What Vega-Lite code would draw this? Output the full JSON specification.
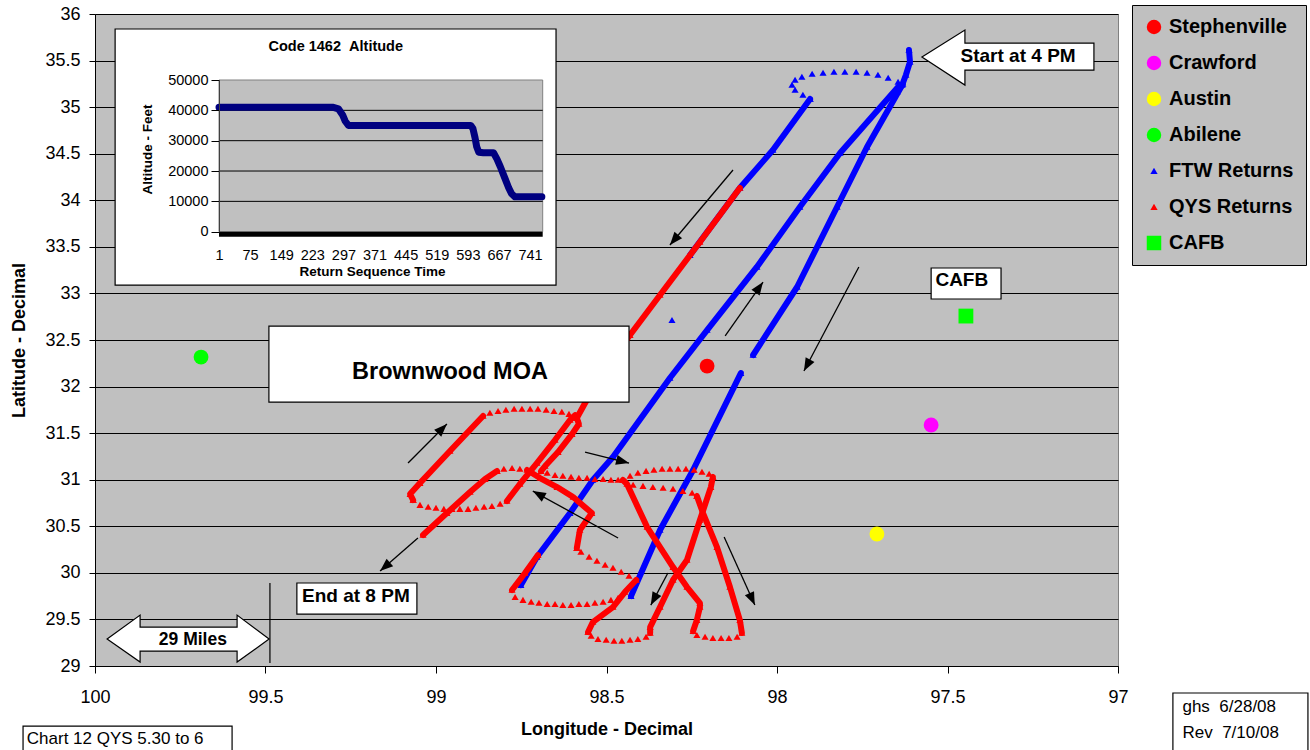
{
  "$schema": "https://vega.github.io/schema/vega-lite/v6.json",
  "width": 1023,
  "height": 652,
  "autosize": {"type": "none"},
  "padding": {"left": 95, "top": 14, "right": 192, "bottom": 84},
  "background": "#ffffff",
  "config": {
    "font": "Liberation Sans",
    "view": {"fill": "#c0c0c0", "stroke": "#808080", "strokeWidth": 1},
    "axis": {"labelFont": "Liberation Sans", "titleFont": "Liberation Sans", "labelColor": "#000000", "titleColor": "#000000", "domainColor": "#000000", "tickColor": "#000000"},
    "text": {"font": "Liberation Sans"}
  },
  "datasets": {
    "tracks": [
      {"series":"FTW Returns","seg":"b0","ord":0,"lon":97.613,"lat":35.613},
      {"series":"FTW Returns","seg":"b0","ord":1,"lon":97.610,"lat":35.485},
      {"series":"FTW Returns","seg":"b0","ord":2,"lon":97.622,"lat":35.345},
      {"series":"FTW Returns","seg":"b0","ord":3,"lon":97.633,"lat":35.238},
      {"series":"FTW Returns","seg":"b0","ord":4,"lon":97.648,"lat":35.163},
      {"series":"FTW Returns","seg":"b1","ord":0,"lon":97.645,"lat":35.270},
      {"series":"FTW Returns","seg":"b1","ord":1,"lon":97.674,"lat":35.313},
      {"series":"FTW Returns","seg":"b1","ord":2,"lon":97.704,"lat":35.345},
      {"series":"FTW Returns","seg":"b1","ord":3,"lon":97.736,"lat":35.367},
      {"series":"FTW Returns","seg":"b1","ord":4,"lon":97.768,"lat":35.377},
      {"series":"FTW Returns","seg":"b1","ord":5,"lon":97.801,"lat":35.377},
      {"series":"FTW Returns","seg":"b1","ord":6,"lon":97.833,"lat":35.377},
      {"series":"FTW Returns","seg":"b1","ord":7,"lon":97.865,"lat":35.367},
      {"series":"FTW Returns","seg":"b1","ord":8,"lon":97.897,"lat":35.356},
      {"series":"FTW Returns","seg":"b1","ord":9,"lon":97.927,"lat":35.324},
      {"series":"FTW Returns","seg":"b1","ord":10,"lon":97.947,"lat":35.292},
      {"series":"FTW Returns","seg":"b1","ord":11,"lon":97.956,"lat":35.238},
      {"series":"FTW Returns","seg":"b1","ord":12,"lon":97.947,"lat":35.184},
      {"series":"FTW Returns","seg":"b1","ord":13,"lon":97.924,"lat":35.130},
      {"series":"FTW Returns","seg":"b1","ord":14,"lon":97.903,"lat":35.087},
      {"series":"FTW Returns","seg":"b2","ord":0,"lon":97.903,"lat":35.087},
      {"series":"FTW Returns","seg":"b2","ord":1,"lon":98.012,"lat":34.540},
      {"series":"FTW Returns","seg":"b2","ord":2,"lon":98.109,"lat":34.132},
      {"series":"FTW Returns","seg":"b2","ord":3,"lon":98.255,"lat":33.412},
      {"series":"FTW Returns","seg":"b3","ord":0,"lon":97.645,"lat":35.216},
      {"series":"FTW Returns","seg":"b3","ord":1,"lon":97.815,"lat":34.508},
      {"series":"FTW Returns","seg":"b3","ord":2,"lon":97.933,"lat":33.928},
      {"series":"FTW Returns","seg":"b3","ord":3,"lon":98.059,"lat":33.284},
      {"series":"FTW Returns","seg":"b3","ord":4,"lon":98.205,"lat":32.607},
      {"series":"FTW Returns","seg":"b3","ord":5,"lon":98.314,"lat":32.092},
      {"series":"FTW Returns","seg":"b3","ord":6,"lon":98.481,"lat":31.244},
      {"series":"FTW Returns","seg":"b3","ord":7,"lon":98.540,"lat":30.997},
      {"series":"FTW Returns","seg":"b3","ord":8,"lon":98.607,"lat":30.642},
      {"series":"FTW Returns","seg":"b3","ord":9,"lon":98.704,"lat":30.170},
      {"series":"FTW Returns","seg":"b3","ord":10,"lon":98.751,"lat":29.869},
      {"series":"FTW Returns","seg":"b4","ord":0,"lon":97.631,"lat":35.248},
      {"series":"FTW Returns","seg":"b4","ord":1,"lon":97.736,"lat":34.572},
      {"series":"FTW Returns","seg":"b4","ord":2,"lon":97.824,"lat":33.928},
      {"series":"FTW Returns","seg":"b4","ord":3,"lon":97.941,"lat":33.069},
      {"series":"FTW Returns","seg":"b4","ord":4,"lon":98.070,"lat":32.339},
      {"series":"FTW Returns","seg":"b5","ord":0,"lon":98.106,"lat":32.145},
      {"series":"FTW Returns","seg":"b5","ord":1,"lon":98.246,"lat":31.104},
      {"series":"FTW Returns","seg":"b5","ord":2,"lon":98.343,"lat":30.460},
      {"series":"FTW Returns","seg":"b5","ord":3,"lon":98.428,"lat":29.751},
      {"series":"FTW Returns","seg":"b6","ord":0,"lon":98.308,"lat":32.714},
      {"series":"QYS Returns","seg":"r0","ord":0,"lon":98.109,"lat":34.132},
      {"series":"QYS Returns","seg":"r0","ord":1,"lon":98.226,"lat":33.552},
      {"series":"QYS Returns","seg":"r0","ord":2,"lon":98.343,"lat":32.983},
      {"series":"QYS Returns","seg":"r0","ord":3,"lon":98.431,"lat":32.553},
      {"series":"QYS Returns","seg":"r0","ord":4,"lon":98.519,"lat":32.113},
      {"series":"QYS Returns","seg":"r0","ord":5,"lon":98.587,"lat":31.662},
      {"series":"QYS Returns","seg":"r1","ord":0,"lon":98.587,"lat":31.662},
      {"series":"QYS Returns","seg":"r1","ord":1,"lon":98.581,"lat":31.598},
      {"series":"QYS Returns","seg":"r1","ord":2,"lon":98.601,"lat":31.490},
      {"series":"QYS Returns","seg":"r1","ord":3,"lon":98.642,"lat":31.297},
      {"series":"QYS Returns","seg":"r1","ord":4,"lon":98.680,"lat":31.147},
      {"series":"QYS Returns","seg":"r1","ord":5,"lon":98.692,"lat":31.093},
      {"series":"QYS Returns","seg":"r2","ord":0,"lon":98.792,"lat":30.771},
      {"series":"QYS Returns","seg":"r2","ord":1,"lon":98.754,"lat":30.954},
      {"series":"QYS Returns","seg":"r2","ord":2,"lon":98.704,"lat":31.179},
      {"series":"QYS Returns","seg":"r2","ord":3,"lon":98.651,"lat":31.426},
      {"series":"QYS Returns","seg":"r2","ord":4,"lon":98.607,"lat":31.641},
      {"series":"QYS Returns","seg":"r2","ord":5,"lon":98.592,"lat":31.694},
      {"series":"QYS Returns","seg":"r2","ord":6,"lon":98.587,"lat":31.662},
      {"series":"QYS Returns","seg":"r3","ord":0,"lon":98.674,"lat":31.072},
      {"series":"QYS Returns","seg":"r3","ord":1,"lon":98.651,"lat":31.050},
      {"series":"QYS Returns","seg":"r3","ord":2,"lon":98.628,"lat":31.040},
      {"series":"QYS Returns","seg":"r3","ord":3,"lon":98.604,"lat":31.029},
      {"series":"QYS Returns","seg":"r3","ord":4,"lon":98.581,"lat":31.018},
      {"series":"QYS Returns","seg":"r3","ord":5,"lon":98.557,"lat":31.018},
      {"series":"QYS Returns","seg":"r3","ord":6,"lon":98.534,"lat":31.007},
      {"series":"QYS Returns","seg":"r3","ord":7,"lon":98.510,"lat":31.007},
      {"series":"QYS Returns","seg":"r3","ord":8,"lon":98.487,"lat":30.997},
      {"series":"QYS Returns","seg":"r3","ord":9,"lon":98.466,"lat":30.997},
      {"series":"QYS Returns","seg":"r4","ord":0,"lon":98.452,"lat":30.997},
      {"series":"QYS Returns","seg":"r4","ord":1,"lon":98.431,"lat":31.040},
      {"series":"QYS Returns","seg":"r4","ord":2,"lon":98.408,"lat":31.072},
      {"series":"QYS Returns","seg":"r4","ord":3,"lon":98.384,"lat":31.093},
      {"series":"QYS Returns","seg":"r4","ord":4,"lon":98.361,"lat":31.104},
      {"series":"QYS Returns","seg":"r4","ord":5,"lon":98.337,"lat":31.115},
      {"series":"QYS Returns","seg":"r4","ord":6,"lon":98.314,"lat":31.115},
      {"series":"QYS Returns","seg":"r4","ord":7,"lon":98.290,"lat":31.115},
      {"series":"QYS Returns","seg":"r4","ord":8,"lon":98.267,"lat":31.115},
      {"series":"QYS Returns","seg":"r4","ord":9,"lon":98.243,"lat":31.104},
      {"series":"QYS Returns","seg":"r4","ord":10,"lon":98.220,"lat":31.083},
      {"series":"QYS Returns","seg":"r4","ord":11,"lon":98.199,"lat":31.061},
      {"series":"QYS Returns","seg":"r4","ord":12,"lon":98.188,"lat":31.029},
      {"series":"QYS Returns","seg":"r5","ord":0,"lon":98.188,"lat":31.029},
      {"series":"QYS Returns","seg":"r5","ord":1,"lon":98.194,"lat":30.921},
      {"series":"QYS Returns","seg":"r5","ord":2,"lon":98.226,"lat":30.567},
      {"series":"QYS Returns","seg":"r5","ord":3,"lon":98.264,"lat":30.138},
      {"series":"QYS Returns","seg":"r5","ord":4,"lon":98.305,"lat":29.923},
      {"series":"QYS Returns","seg":"r5","ord":5,"lon":98.343,"lat":29.633},
      {"series":"QYS Returns","seg":"r5","ord":6,"lon":98.372,"lat":29.418},
      {"series":"QYS Returns","seg":"r5","ord":7,"lon":98.372,"lat":29.354},
      {"series":"QYS Returns","seg":"r6","ord":0,"lon":98.384,"lat":29.311},
      {"series":"QYS Returns","seg":"r6","ord":1,"lon":98.408,"lat":29.289},
      {"series":"QYS Returns","seg":"r6","ord":2,"lon":98.431,"lat":29.279},
      {"series":"QYS Returns","seg":"r6","ord":3,"lon":98.455,"lat":29.268},
      {"series":"QYS Returns","seg":"r6","ord":4,"lon":98.478,"lat":29.268},
      {"series":"QYS Returns","seg":"r6","ord":5,"lon":98.501,"lat":29.279},
      {"series":"QYS Returns","seg":"r6","ord":6,"lon":98.525,"lat":29.289},
      {"series":"QYS Returns","seg":"r6","ord":7,"lon":98.545,"lat":29.322},
      {"series":"QYS Returns","seg":"r6","ord":8,"lon":98.554,"lat":29.365},
      {"series":"QYS Returns","seg":"r7","ord":0,"lon":98.554,"lat":29.365},
      {"series":"QYS Returns","seg":"r7","ord":1,"lon":98.540,"lat":29.472},
      {"series":"QYS Returns","seg":"r7","ord":2,"lon":98.481,"lat":29.633},
      {"series":"QYS Returns","seg":"r7","ord":3,"lon":98.446,"lat":29.794},
      {"series":"QYS Returns","seg":"r7","ord":4,"lon":98.413,"lat":29.923},
      {"series":"QYS Returns","seg":"r8","ord":0,"lon":98.434,"lat":29.966},
      {"series":"QYS Returns","seg":"r8","ord":1,"lon":98.457,"lat":30.009},
      {"series":"QYS Returns","seg":"r8","ord":2,"lon":98.481,"lat":30.052},
      {"series":"QYS Returns","seg":"r8","ord":3,"lon":98.504,"lat":30.084},
      {"series":"QYS Returns","seg":"r8","ord":4,"lon":98.528,"lat":30.127},
      {"series":"QYS Returns","seg":"r8","ord":5,"lon":98.551,"lat":30.170},
      {"series":"QYS Returns","seg":"r8","ord":6,"lon":98.575,"lat":30.224},
      {"series":"QYS Returns","seg":"r8","ord":7,"lon":98.587,"lat":30.266},
      {"series":"QYS Returns","seg":"r9","ord":0,"lon":98.587,"lat":30.266},
      {"series":"QYS Returns","seg":"r9","ord":1,"lon":98.578,"lat":30.460},
      {"series":"QYS Returns","seg":"r9","ord":2,"lon":98.543,"lat":30.642},
      {"series":"QYS Returns","seg":"r9","ord":3,"lon":98.598,"lat":30.814},
      {"series":"QYS Returns","seg":"r9","ord":4,"lon":98.645,"lat":30.921},
      {"series":"QYS Returns","seg":"r9","ord":5,"lon":98.695,"lat":31.018},
      {"series":"QYS Returns","seg":"r9","ord":6,"lon":98.733,"lat":31.104},
      {"series":"QYS Returns","seg":"r10","ord":0,"lon":98.754,"lat":31.115},
      {"series":"QYS Returns","seg":"r10","ord":1,"lon":98.777,"lat":31.125},
      {"series":"QYS Returns","seg":"r10","ord":2,"lon":98.801,"lat":31.115},
      {"series":"QYS Returns","seg":"r10","ord":3,"lon":98.821,"lat":31.093},
      {"series":"QYS Returns","seg":"r11","ord":0,"lon":98.821,"lat":31.093},
      {"series":"QYS Returns","seg":"r11","ord":1,"lon":98.856,"lat":31.007},
      {"series":"QYS Returns","seg":"r11","ord":2,"lon":98.900,"lat":30.868},
      {"series":"QYS Returns","seg":"r11","ord":3,"lon":98.968,"lat":30.642},
      {"series":"QYS Returns","seg":"r11","ord":4,"lon":99.038,"lat":30.406},
      {"series":"QYS Returns","seg":"r12","ord":0,"lon":99.067,"lat":30.782},
      {"series":"QYS Returns","seg":"r12","ord":1,"lon":99.047,"lat":30.728},
      {"series":"QYS Returns","seg":"r12","ord":2,"lon":99.023,"lat":30.707},
      {"series":"QYS Returns","seg":"r12","ord":3,"lon":99.000,"lat":30.696},
      {"series":"QYS Returns","seg":"r12","ord":4,"lon":98.977,"lat":30.685},
      {"series":"QYS Returns","seg":"r12","ord":5,"lon":98.953,"lat":30.685},
      {"series":"QYS Returns","seg":"r12","ord":6,"lon":98.930,"lat":30.685},
      {"series":"QYS Returns","seg":"r12","ord":7,"lon":98.906,"lat":30.685},
      {"series":"QYS Returns","seg":"r12","ord":8,"lon":98.883,"lat":30.696},
      {"series":"QYS Returns","seg":"r12","ord":9,"lon":98.859,"lat":30.707},
      {"series":"QYS Returns","seg":"r12","ord":10,"lon":98.836,"lat":30.717},
      {"series":"QYS Returns","seg":"r12","ord":11,"lon":98.812,"lat":30.739},
      {"series":"QYS Returns","seg":"r13","ord":0,"lon":99.067,"lat":30.782},
      {"series":"QYS Returns","seg":"r13","ord":1,"lon":99.076,"lat":30.846},
      {"series":"QYS Returns","seg":"r13","ord":2,"lon":99.047,"lat":30.964},
      {"series":"QYS Returns","seg":"r13","ord":3,"lon":98.959,"lat":31.308},
      {"series":"QYS Returns","seg":"r13","ord":4,"lon":98.862,"lat":31.684},
      {"series":"QYS Returns","seg":"r14","ord":0,"lon":98.842,"lat":31.716},
      {"series":"QYS Returns","seg":"r14","ord":1,"lon":98.818,"lat":31.737},
      {"series":"QYS Returns","seg":"r14","ord":2,"lon":98.795,"lat":31.748},
      {"series":"QYS Returns","seg":"r14","ord":3,"lon":98.771,"lat":31.759},
      {"series":"QYS Returns","seg":"r14","ord":4,"lon":98.748,"lat":31.759},
      {"series":"QYS Returns","seg":"r14","ord":5,"lon":98.724,"lat":31.759},
      {"series":"QYS Returns","seg":"r14","ord":6,"lon":98.701,"lat":31.759},
      {"series":"QYS Returns","seg":"r14","ord":7,"lon":98.677,"lat":31.748},
      {"series":"QYS Returns","seg":"r14","ord":8,"lon":98.654,"lat":31.737},
      {"series":"QYS Returns","seg":"r14","ord":9,"lon":98.631,"lat":31.727},
      {"series":"QYS Returns","seg":"r14","ord":10,"lon":98.610,"lat":31.705},
      {"series":"QYS Returns","seg":"r15","ord":0,"lon":98.246,"lat":29.375},
      {"series":"QYS Returns","seg":"r15","ord":1,"lon":98.235,"lat":29.493},
      {"series":"QYS Returns","seg":"r15","ord":2,"lon":98.226,"lat":29.633},
      {"series":"QYS Returns","seg":"r15","ord":3,"lon":98.226,"lat":29.676},
      {"series":"QYS Returns","seg":"r15","ord":4,"lon":98.264,"lat":29.848},
      {"series":"QYS Returns","seg":"r15","ord":5,"lon":98.305,"lat":30.062},
      {"series":"QYS Returns","seg":"r15","ord":6,"lon":98.381,"lat":30.492},
      {"series":"QYS Returns","seg":"r15","ord":7,"lon":98.440,"lat":30.954},
      {"series":"QYS Returns","seg":"r15","ord":8,"lon":98.452,"lat":30.997},
      {"series":"QYS Returns","seg":"r16","ord":0,"lon":98.422,"lat":30.943},
      {"series":"QYS Returns","seg":"r16","ord":1,"lon":98.393,"lat":30.932},
      {"series":"QYS Returns","seg":"r16","ord":2,"lon":98.364,"lat":30.921},
      {"series":"QYS Returns","seg":"r16","ord":3,"lon":98.334,"lat":30.911},
      {"series":"QYS Returns","seg":"r16","ord":4,"lon":98.305,"lat":30.900},
      {"series":"QYS Returns","seg":"r16","ord":5,"lon":98.276,"lat":30.878},
      {"series":"QYS Returns","seg":"r16","ord":6,"lon":98.249,"lat":30.857},
      {"series":"QYS Returns","seg":"r16","ord":7,"lon":98.235,"lat":30.825},
      {"series":"QYS Returns","seg":"r17","ord":0,"lon":98.235,"lat":30.825},
      {"series":"QYS Returns","seg":"r17","ord":1,"lon":98.217,"lat":30.642},
      {"series":"QYS Returns","seg":"r17","ord":2,"lon":98.176,"lat":30.277},
      {"series":"QYS Returns","seg":"r17","ord":3,"lon":98.138,"lat":29.848},
      {"series":"QYS Returns","seg":"r17","ord":4,"lon":98.109,"lat":29.493},
      {"series":"QYS Returns","seg":"r17","ord":5,"lon":98.103,"lat":29.354},
      {"series":"QYS Returns","seg":"r18","ord":0,"lon":98.117,"lat":29.311},
      {"series":"QYS Returns","seg":"r18","ord":1,"lon":98.141,"lat":29.300},
      {"series":"QYS Returns","seg":"r18","ord":2,"lon":98.164,"lat":29.300},
      {"series":"QYS Returns","seg":"r18","ord":3,"lon":98.188,"lat":29.300},
      {"series":"QYS Returns","seg":"r18","ord":4,"lon":98.211,"lat":29.311},
      {"series":"QYS Returns","seg":"r18","ord":5,"lon":98.235,"lat":29.332},
      {"series":"QYS Returns","seg":"r20","ord":0,"lon":98.701,"lat":30.191},
      {"series":"QYS Returns","seg":"r20","ord":1,"lon":98.739,"lat":29.998},
      {"series":"QYS Returns","seg":"r20","ord":2,"lon":98.777,"lat":29.816},
      {"series":"QYS Returns","seg":"r21","ord":0,"lon":98.768,"lat":29.740},
      {"series":"QYS Returns","seg":"r21","ord":1,"lon":98.745,"lat":29.708},
      {"series":"QYS Returns","seg":"r21","ord":2,"lon":98.721,"lat":29.687},
      {"series":"QYS Returns","seg":"r21","ord":3,"lon":98.698,"lat":29.676},
      {"series":"QYS Returns","seg":"r21","ord":4,"lon":98.674,"lat":29.665},
      {"series":"QYS Returns","seg":"r21","ord":5,"lon":98.651,"lat":29.665},
      {"series":"QYS Returns","seg":"r21","ord":6,"lon":98.628,"lat":29.654},
      {"series":"QYS Returns","seg":"r21","ord":7,"lon":98.604,"lat":29.654},
      {"series":"QYS Returns","seg":"r21","ord":8,"lon":98.581,"lat":29.665},
      {"series":"QYS Returns","seg":"r21","ord":9,"lon":98.557,"lat":29.665},
      {"series":"QYS Returns","seg":"r21","ord":10,"lon":98.534,"lat":29.676},
      {"series":"QYS Returns","seg":"r21","ord":11,"lon":98.510,"lat":29.687},
      {"series":"QYS Returns","seg":"r21","ord":12,"lon":98.487,"lat":29.708},
      {"series":"QYS Returns","seg":"r21","ord":13,"lon":98.466,"lat":29.730}
    ],
    "places": [
      {"series":"Stephenville","lon":98.205,"lat":32.220},
      {"series":"Crawford","lon":97.548,"lat":31.587},
      {"series":"Austin","lon":97.707,"lat":30.417},
      {"series":"Abilene","lon":99.689,"lat":32.317},
      {"series":"CAFB","lon":97.446,"lat":32.757}
    ],
    "arrows": [
      {"lon1":98.129,"lat1":34.325,"lon2":98.314,"lat2":33.520,"heading":220},
      {"lon1":98.152,"lat1":32.543,"lon2":98.041,"lat2":33.122,"heading":35},
      {"lon1":97.760,"lat1":33.284,"lon2":97.921,"lat2":32.167,"heading":208},
      {"lon1":99.082,"lat1":31.179,"lon2":98.968,"lat2":31.598,"heading":45},
      {"lon1":98.563,"lat1":31.297,"lon2":98.434,"lat2":31.179,"heading":104},
      {"lon1":98.466,"lat1":30.374,"lon2":98.716,"lat2":30.878,"heading":299},
      {"lon1":99.053,"lat1":30.374,"lon2":99.164,"lat2":30.020,"heading":229},
      {"lon1":98.320,"lat1":29.998,"lon2":98.370,"lat2":29.654,"heading":208},
      {"lon1":98.155,"lat1":30.385,"lon2":98.065,"lat2":29.654,"heading":155.5}
    ],
    "boxes": [
      {"name":"inset","lon1":99.941,"lon2":98.648,"lat1":35.839,"lat2":33.090},
      {"name":"moa","lon1":99.490,"lon2":98.434,"lat1":32.650,"lat2":31.834},
      {"name":"cafb","lon1":97.548,"lon2":97.343,"lat1":33.273,"lat2":32.940},
      {"name":"end","lon1":99.408,"lon2":99.056,"lat1":29.891,"lat2":29.558},
      {"name":"chart","lon1":100.211,"lon2":99.598,"lat1":28.355,"lat2":28.070},
      {"name":"rev","lon1":96.839,"lon2":96.443,"lat1":28.710,"lat2":28.070}
    ],
    "alt": [
      {"seq":1,"alt":41000},{"seq":100,"alt":41000},{"seq":200,"alt":41000},{"seq":273,"alt":41000},
      {"seq":285,"alt":40500},{"seq":295,"alt":38500},{"seq":301,"alt":36500},{"seq":309,"alt":35000},
      {"seq":400,"alt":35000},{"seq":500,"alt":35000},{"seq":600,"alt":35000},{"seq":605,"alt":34000},
      {"seq":610,"alt":31000},{"seq":614,"alt":28000},{"seq":619,"alt":26200},{"seq":630,"alt":26000},
      {"seq":654,"alt":26000},{"seq":662,"alt":24000},{"seq":670,"alt":21500},{"seq":680,"alt":18000},
      {"seq":690,"alt":14500},{"seq":697,"alt":12500},{"seq":705,"alt":11500},{"seq":740,"alt":11500},
      {"seq":769,"alt":11500}
    ]
  },
  "layer": [
    {
      "data": {"name": "tracks"},
      "transform": [{"filter": {"field": "seg", "oneOf": ["b0","b2","b3","b4","b5"]}}],
      "mark": {"type": "line", "color": "#0000ff", "strokeWidth": 6, "strokeJoin": "round", "strokeCap": "round"},
      "encoding": {
        "x": {"field": "lon", "type": "quantitative",
          "scale": {"domain": [97, 100], "reverse": true, "nice": false, "zero": false},
          "axis": {"orient": "bottom", "title": "Longitude - Decimal", "values": [97,97.5,98,98.5,99,99.5,100], "format": "~g", "grid": false, "tickSize": 7, "labelFontSize": 18, "labelPadding": 15, "labelFlush": false, "titleFontSize": 18, "titleFontWeight": "bold", "titlePadding": 14}},
        "y": {"field": "lat", "type": "quantitative",
          "scale": {"domain": [29, 36], "nice": false, "zero": false},
          "axis": {"orient": "left", "title": "Latitude - Decimal", "values": [29,29.5,30,30.5,31,31.5,32,32.5,33,33.5,34,34.5,35,35.5,36], "format": "~g", "grid": true, "gridColor": "#000000", "gridOpacity": 1, "gridWidth": 1, "tickSize": 6, "labelFontSize": 18, "labelPadding": 9, "titleFontSize": 18, "titleFontWeight": "bold", "titlePadding": 16}},
        "detail": {"field": "seg"},
        "order": {"field": "ord", "type": "quantitative"}
      }
    },
    {
      "data": {"name": "tracks"},
      "transform": [{"filter": "datum.series == 'FTW Returns'"}],
      "mark": {"type": "point", "filled": true, "opacity": 1, "strokeWidth": 0, "size": 200},
      "encoding": {
        "x": {"field": "lon", "type": "quantitative", "axis": null, "scale": {"domain": [97, 100], "reverse": true, "nice": false, "zero": false}},
        "y": {"field": "lat", "type": "quantitative", "axis": null, "scale": {"domain": [29, 36], "nice": false, "zero": false}},
        "color": {"field": "series", "type": "nominal",
          "scale": {"domain": ["Stephenville","Crawford","Austin","Abilene","FTW Returns","QYS Returns","CAFB"], "range": ["#ff0000","#ff00ff","#ffff00","#00ff00","#0000ff","#ff0000","#00ff00"]},
          "legend": {"title": null, "orient": "none", "legendX": 1037, "legendY": -9, "fillColor": "#c0c0c0", "strokeColor": "#000000", "padding": 12, "labelFontSize": 20, "labelFontWeight": "bold", "labelFont": "Liberation Sans", "labelColor": "#000000", "clipHeight": 20, "rowPadding": 16, "symbolStrokeWidth": 0, "labelOffset": 5, "symbolOpacity": 1, "symbolSize": 210}},
        "shape": {"field": "series", "type": "nominal",
          "scale": {"domain": ["Stephenville","Crawford","Austin","Abilene","FTW Returns","QYS Returns","CAFB"], "range": ["circle","circle","circle","circle","M0,-0.45L0.5,0.4L-0.5,0.4Z","M0,-0.45L0.5,0.4L-0.5,0.4Z","square"]},
          "legend": {"title": null, "orient": "none", "legendX": 1037, "legendY": -9, "fillColor": "#c0c0c0", "strokeColor": "#000000", "padding": 12, "labelFontSize": 20, "labelFontWeight": "bold", "labelFont": "Liberation Sans", "labelColor": "#000000", "clipHeight": 20, "rowPadding": 16, "symbolStrokeWidth": 0, "labelOffset": 5, "symbolOpacity": 1, "symbolSize": 210}}
      }
    },
    {
      "data": {"name": "tracks"},
      "transform": [{"filter": {"field": "seg", "oneOf": ["r0","r1","r2","r5","r7","r9","r11","r13","r15","r17","r20"]}}],
      "mark": {"type": "line", "color": "#ff0000", "strokeWidth": 6, "strokeJoin": "round", "strokeCap": "round"},
      "encoding": {
        "x": {"field": "lon", "type": "quantitative", "axis": null, "scale": {"domain": [97, 100], "reverse": true, "nice": false, "zero": false}},
        "y": {"field": "lat", "type": "quantitative", "axis": null, "scale": {"domain": [29, 36], "nice": false, "zero": false}},
        "detail": {"field": "seg"},
        "order": {"field": "ord", "type": "quantitative"}
      }
    },
    {
      "data": {"name": "tracks"},
      "transform": [{"filter": "datum.series == 'QYS Returns'"}],
      "mark": {"type": "point", "filled": true, "opacity": 1, "strokeWidth": 0, "size": 200},
      "encoding": {
        "x": {"field": "lon", "type": "quantitative", "axis": null, "scale": {"domain": [97, 100], "reverse": true, "nice": false, "zero": false}},
        "y": {"field": "lat", "type": "quantitative", "axis": null, "scale": {"domain": [29, 36], "nice": false, "zero": false}},
        "color": {"field": "series", "type": "nominal"},
        "shape": {"field": "series", "type": "nominal"}
      }
    },
    {
      "data": {"name": "places"},
      "mark": {"type": "point", "filled": true, "opacity": 1, "strokeWidth": 0, "size": 220},
      "encoding": {
        "x": {"field": "lon", "type": "quantitative", "axis": null, "scale": {"domain": [97, 100], "reverse": true, "nice": false, "zero": false}},
        "y": {"field": "lat", "type": "quantitative", "axis": null, "scale": {"domain": [29, 36], "nice": false, "zero": false}},
        "color": {"field": "series", "type": "nominal"},
        "shape": {"field": "series", "type": "nominal"}
      }
    },
    {
      "data": {"name": "arrows"},
      "mark": {"type": "rule", "color": "#000000", "strokeWidth": 1.3},
      "encoding": {
        "x": {"field": "lon1", "type": "quantitative", "axis": null, "scale": {"domain": [97, 100], "reverse": true, "nice": false, "zero": false}},
        "y": {"field": "lat1", "type": "quantitative", "axis": null, "scale": {"domain": [29, 36], "nice": false, "zero": false}},
        "x2": {"field": "lon2"},
        "y2": {"field": "lat2"}
      }
    },
    {
      "data": {"name": "arrows"},
      "mark": {"type": "point", "shape": "M0,0L-5,13L5,13Z", "size": 4, "filled": true, "color": "#000000", "opacity": 1, "strokeWidth": 0},
      "encoding": {
        "x": {"field": "lon2", "type": "quantitative", "axis": null, "scale": {"domain": [97, 100], "reverse": true, "nice": false, "zero": false}},
        "y": {"field": "lat2", "type": "quantitative", "axis": null, "scale": {"domain": [29, 36], "nice": false, "zero": false}},
        "angle": {"field": "heading", "type": "quantitative", "scale": null}
      }
    },
    {
      "data": {"values": [{"lon": 99.487, "lat1": 29.032, "lat2": 29.891}]},
      "mark": {"type": "rule", "color": "#000000", "strokeWidth": 1.2},
      "encoding": {
        "x": {"field": "lon", "type": "quantitative", "axis": null, "scale": {"domain": [97, 100], "reverse": true, "nice": false, "zero": false}},
        "y": {"field": "lat1", "type": "quantitative", "axis": null, "scale": {"domain": [29, 36], "nice": false, "zero": false}},
        "y2": {"field": "lat2"}
      }
    },
    {
      "data": {"name": "boxes"},
      "mark": {"type": "rect", "fill": "#ffffff", "stroke": "#000000", "strokeWidth": 1.2},
      "encoding": {
        "x": {"field": "lon1", "type": "quantitative", "axis": null, "scale": {"domain": [97, 100], "reverse": true, "nice": false, "zero": false}},
        "x2": {"field": "lon2"},
        "y": {"field": "lat1", "type": "quantitative", "axis": null, "scale": {"domain": [29, 36], "nice": false, "zero": false}},
        "y2": {"field": "lat2"}
      }
    },
    {
      "data": {"values": [{"lon": 97.575, "lat": 35.538}]},
      "mark": {"type": "point", "shape": "M0,0L43,-27L43,-14L172,-14L172,13L43,13L43,28Z", "size": 4, "filled": true, "fill": "#ffffff", "stroke": "#000000", "strokeWidth": 1.2, "opacity": 1},
      "encoding": {
        "x": {"field": "lon", "type": "quantitative", "axis": null, "scale": {"domain": [97, 100], "reverse": true, "nice": false, "zero": false}},
        "y": {"field": "lat", "type": "quantitative", "axis": null, "scale": {"domain": [29, 36], "nice": false, "zero": false}}
      }
    },
    {
      "data": {"values": [{"lon": 99.727, "lat": 29.289}]},
      "mark": {"type": "point", "shape": "M-81,0L-48,-24L-48,-12L49,-12L49,-24L81,0L49,23L49,12L-48,12L-48,23Z", "size": 4, "filled": true, "fill": "#ffffff", "stroke": "#000000", "strokeWidth": 1.2, "opacity": 1},
      "encoding": {
        "x": {"field": "lon", "type": "quantitative", "axis": null, "scale": {"domain": [97, 100], "reverse": true, "nice": false, "zero": false}},
        "y": {"field": "lat", "type": "quantitative", "axis": null, "scale": {"domain": [29, 36], "nice": false, "zero": false}}
      }
    },
    {
      "data": {"values": [
        {"lon": 97.293, "lat": 35.546, "label": "Start at 4 PM"},
        {"lon": 97.458, "lat": 33.139, "label": "CAFB"},
        {"lon": 99.235, "lat": 29.751, "label": "End at 8 PM"}
      ]},
      "mark": {"type": "text", "fontSize": 19, "fontWeight": "bold", "color": "#000000", "align": "center", "baseline": "middle"},
      "encoding": {
        "x": {"field": "lon", "type": "quantitative", "axis": null, "scale": {"domain": [97, 100], "reverse": true, "nice": false, "zero": false}},
        "y": {"field": "lat", "type": "quantitative", "axis": null, "scale": {"domain": [29, 36], "nice": false, "zero": false}},
        "text": {"field": "label"}
      }
    },
    {
      "data": {"values": [{"lon": 98.959, "lat": 32.156, "label": "Brownwood MOA"}]},
      "mark": {"type": "text", "fontSize": 23.5, "fontWeight": "bold", "color": "#000000", "align": "center", "baseline": "middle"},
      "encoding": {
        "x": {"field": "lon", "type": "quantitative", "axis": null, "scale": {"domain": [97, 100], "reverse": true, "nice": false, "zero": false}},
        "y": {"field": "lat", "type": "quantitative", "axis": null, "scale": {"domain": [29, 36], "nice": false, "zero": false}},
        "text": {"field": "label"}
      }
    },
    {
      "data": {"values": [{"lon": 99.713, "lat": 29.284, "label": "29 Miles"}]},
      "mark": {"type": "text", "fontSize": 17.5, "fontWeight": "bold", "color": "#000000", "align": "center", "baseline": "middle"},
      "encoding": {
        "x": {"field": "lon", "type": "quantitative", "axis": null, "scale": {"domain": [97, 100], "reverse": true, "nice": false, "zero": false}},
        "y": {"field": "lat", "type": "quantitative", "axis": null, "scale": {"domain": [29, 36], "nice": false, "zero": false}},
        "text": {"field": "label"}
      }
    },
    {
      "data": {"values": [{"lon": 99.294, "lat": 35.649, "label": "Code 1462\u00a0\u00a0Altitude"}]},
      "mark": {"type": "text", "fontSize": 14.5, "fontWeight": "bold", "color": "#000000", "align": "center", "baseline": "middle"},
      "encoding": {
        "x": {"field": "lon", "type": "quantitative", "axis": null, "scale": {"domain": [97, 100], "reverse": true, "nice": false, "zero": false}},
        "y": {"field": "lat", "type": "quantitative", "axis": null, "scale": {"domain": [29, 36], "nice": false, "zero": false}},
        "text": {"field": "label"}
      }
    },
    {
      "data": {"values": [
        {"lon": 100.200, "lat": 28.216, "label": "Chart 12 QYS 5.30 to 6"},
        {"lon": 96.811, "lat": 28.563, "label": "ghs\u00a0\u00a06/28/08"},
        {"lon": 96.811, "lat": 28.277, "label": "Rev\u00a0\u00a07/10/08"}
      ]},
      "mark": {"type": "text", "fontSize": 17, "color": "#000000", "align": "left", "baseline": "middle"},
      "encoding": {
        "x": {"field": "lon", "type": "quantitative", "axis": null, "scale": {"domain": [97, 100], "reverse": true, "nice": false, "zero": false}},
        "y": {"field": "lat", "type": "quantitative", "axis": null, "scale": {"domain": [29, 36], "nice": false, "zero": false}},
        "text": {"field": "label"}
      }
    },
    {
      "data": {"values": [{"a": 1, "b": 771, "c": 0, "d": 50000}]},
      "mark": {"type": "rect", "fill": "#c0c0c0", "stroke": "#808080", "strokeWidth": 1},
      "encoding": {
        "x": {"field": "a", "type": "quantitative",
          "scale": {"domain": [1, 771], "range": [124, 447.7], "nice": false, "zero": false},
          "axis": {"orient": "bottom", "offset": -434.3, "title": "Return Sequence Time", "values": [1,75,149,223,297,371,445,519,593,667,741], "format": "d", "grid": false, "domain": false, "ticks": false, "labelFontSize": 14.5, "labelPadding": 17, "labelFlush": false, "labelOverlap": false, "titleFontSize": 13.5, "titleFontWeight": "bold", "titlePadding": 2, "titleX": 277, "zindex": 1}},
        "x2": {"field": "b"},
        "y": {"field": "c", "type": "quantitative",
          "scale": {"domain": [0, 50000], "range": [217.7, 66], "nice": false, "zero": false},
          "axis": {"orient": "left", "offset": -124, "title": "Altitude - Feet", "values": [0,10000,20000,30000,40000,50000], "format": "d", "grid": false, "domainColor": "#404040", "tickSize": 8, "labelPadding": 3, "labelFontSize": 14.5, "titleFontSize": 13.5, "titleFontWeight": "bold", "titlePadding": 13, "titleY": 135, "zindex": 1}},
        "y2": {"field": "d"}
      }
    },
    {
      "data": {"values": [{"v": 10000}, {"v": 20000}, {"v": 30000}, {"v": 40000}]},
      "mark": {"type": "rule", "color": "#000000", "strokeWidth": 1},
      "encoding": {
        "x": {"datum": 1, "type": "quantitative", "axis": null, "scale": {"domain": [1, 771], "range": [124, 447.7], "nice": false, "zero": false}},
        "x2": {"datum": 771},
        "y": {"field": "v", "type": "quantitative", "axis": null, "scale": {"domain": [0, 50000], "range": [217.7, 66], "nice": false, "zero": false}}
      }
    },
    {
      "data": {"values": [{"a": 1, "b": 771, "c": 0, "d": -1650}]},
      "mark": {"type": "rect", "fill": "#000000"},
      "encoding": {
        "x": {"field": "a", "type": "quantitative", "axis": null, "scale": {"domain": [1, 771], "range": [124, 447.7], "nice": false, "zero": false}},
        "x2": {"field": "b"},
        "y": {"field": "c", "type": "quantitative", "axis": null, "scale": {"domain": [0, 50000], "range": [217.7, 66], "nice": false, "zero": false}},
        "y2": {"field": "d"}
      }
    },
    {
      "data": {"name": "alt"},
      "mark": {"type": "line", "color": "#000080", "strokeWidth": 7, "strokeCap": "round", "strokeJoin": "round"},
      "encoding": {
        "x": {"field": "seq", "type": "quantitative", "axis": null, "scale": {"domain": [1, 771], "range": [124, 447.7], "nice": false, "zero": false}},
        "y": {"field": "alt", "type": "quantitative", "axis": null, "scale": {"domain": [0, 50000], "range": [217.7, 66], "nice": false, "zero": false}}
      }
    }
  ],
  "resolve": {"scale": {"x": "independent", "y": "independent"}}
}
